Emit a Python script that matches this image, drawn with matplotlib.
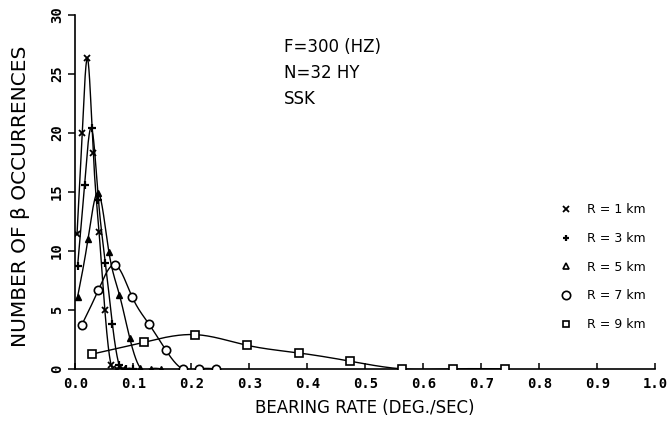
import numpy as np
import matplotlib
matplotlib.use("Agg")
import matplotlib.pyplot as plt
from matplotlib.lines import Line2D

# ---------------- data ----------------
r1_x = [0.003, 0.012, 0.021, 0.031, 0.041, 0.051, 0.062, 0.072, 0.082]
r1_y = [11.4, 20.0, 26.3, 18.3, 11.6, 5.0, 0.3, 0.0, 0.0]

r3_x = [0.004, 0.016, 0.028, 0.040, 0.052, 0.064, 0.076, 0.088, 0.100]
r3_y = [8.7, 15.6, 20.4, 14.3, 9.0, 3.8, 0.3, 0.0, 0.0]

r5_x = [0.004, 0.022, 0.040, 0.058, 0.076, 0.094, 0.112, 0.130, 0.148]
r5_y = [6.1, 11.0, 14.9, 9.9, 6.3, 2.6, 0.1, 0.0, 0.0]

r7_x = [0.011, 0.040, 0.069, 0.098, 0.127, 0.156, 0.185, 0.214, 0.243]
r7_y = [3.7, 6.7, 8.8, 6.1, 3.8, 1.6, 0.0, 0.0, 0.0]

r9_x = [0.029, 0.118, 0.207, 0.296, 0.385, 0.474, 0.563, 0.652, 0.741]
r9_y = [1.25, 2.25, 2.9, 2.0, 1.35, 0.65, 0.0, 0.0, 0.0]

labels = ["R = 1 km", "R = 3 km", "R = 5 km", "R = 7 km", "R = 9 km"]
x_ticks = [0.0, 0.1, 0.2, 0.3, 0.4, 0.5, 0.6, 0.7, 0.8, 0.9, 1.0]
y_ticks = [0, 5, 10, 15, 20, 25, 30]


# natural cubic spline, only used to draw the smooth connecting curve
def smooth(x, y, n=60):
    x = np.asarray(x, float)
    y = np.asarray(y, float)
    k = len(x)
    h = np.diff(x)
    A = np.zeros((k, k))
    b = np.zeros(k)
    A[0, 0] = A[-1, -1] = 1
    for i in range(1, k - 1):
        A[i, i - 1] = h[i - 1]
        A[i, i] = 2 * (h[i - 1] + h[i])
        A[i, i + 1] = h[i]
        b[i] = 6 * ((y[i + 1] - y[i]) / h[i] - (y[i] - y[i - 1]) / h[i - 1])
    M = np.linalg.solve(A, b)
    xs, ys = [], []
    for i in range(k - 1):
        t = np.linspace(x[i], x[i + 1], n)
        a = x[i + 1] - t
        c = t - x[i]
        s = (M[i] * a**3 + M[i + 1] * c**3) / (6 * h[i]) \
            + (y[i] / h[i] - M[i] * h[i] / 6) * a \
            + (y[i + 1] / h[i] - M[i + 1] * h[i] / 6) * c
        xs.append(t)
        ys.append(s)
    return np.concatenate(xs), np.concatenate(ys)


fig = plt.figure(figsize=(6.72, 4.23), dpi=100)
ax = fig.add_axes([0.112, 0.128, 0.863, 0.837])

series = [
    (r1_x, r1_y, "x", dict(ms=5, mew=1.3, color="black")),
    (r3_x, r3_y, "+", dict(ms=6, mew=1.6, color="black")),
    (r5_x, r5_y, "^", dict(ms=5, mfc="black", mec="black")),
    (r7_x, r7_y, "o", dict(ms=6, mfc="white", mec="black", mew=1.2)),
    (r9_x, r9_y, "s", dict(ms=5.5, mfc="white", mec="black", mew=1.2)),
]

for xs, ys, m, style in series:
    sx, sy = smooth(xs, ys)
    ax.plot(sx, sy, color="black", lw=1.0, zorder=2)
    ax.plot(xs, ys, linestyle="none", marker=m, zorder=3, **style)

ax.set_xlim(0, 1.0)
ax.set_ylim(0, 30)
for s in ["top", "right"]:
    ax.spines[s].set_visible(False)
ax.spines["left"].set_linewidth(1.2)
ax.spines["bottom"].set_linewidth(1.2)

tick_font = dict(family="DejaVu Sans Mono", weight="bold", size=10)
ax.set_xticks(x_ticks)
ax.set_xticklabels([f"{v:.1f}" for v in x_ticks], **tick_font)
ax.set_yticks(y_ticks)
ax.set_yticklabels([str(v) for v in y_ticks], rotation=90, va="center", **tick_font)
ax.tick_params(axis="x", direction="in", length=4, width=1.1, pad=6)
ax.tick_params(axis="y", direction="out", length=5, width=1.1, pad=3)

fig.text(0.031, 0.535, "NUMBER OF β OCCURRENCES", rotation=90,
         ha="center", va="center", fontsize=14.5, family="DejaVu Sans")
fig.text(0.543, 0.035, "BEARING RATE (DEG./SEC)", ha="center", va="center",
         fontsize=12, family="DejaVu Sans")

ax.text(0.36, 0.896, "F=300 (HZ)", transform=ax.transAxes, fontsize=12)
ax.text(0.36, 0.822, "N=32 HY", transform=ax.transAxes, fontsize=12)
ax.text(0.36, 0.748, "SSK", transform=ax.transAxes, fontsize=12)

handles = [
    Line2D([], [], linestyle="none", marker="x", ms=4, mew=1.3, color="black"),
    Line2D([], [], linestyle="none", marker="+", ms=5, mew=1.6, color="black"),
    Line2D([], [], linestyle="none", marker="^", ms=5, mfc="white", mec="black", mew=1.2),
    Line2D([], [], linestyle="none", marker="o", ms=6, mfc="white", mec="black", mew=1.2),
    Line2D([], [], linestyle="none", marker="s", ms=5, mfc="white", mec="black", mew=1.2),
]
ax.legend(handles, labels, loc="upper left", bbox_to_anchor=(0.825, 0.485),
          frameon=False, fontsize=9, labelspacing=1.25, handlelength=1.0,
          handletextpad=1.2, borderpad=0)

fig.savefig("out.png", dpi=100)
